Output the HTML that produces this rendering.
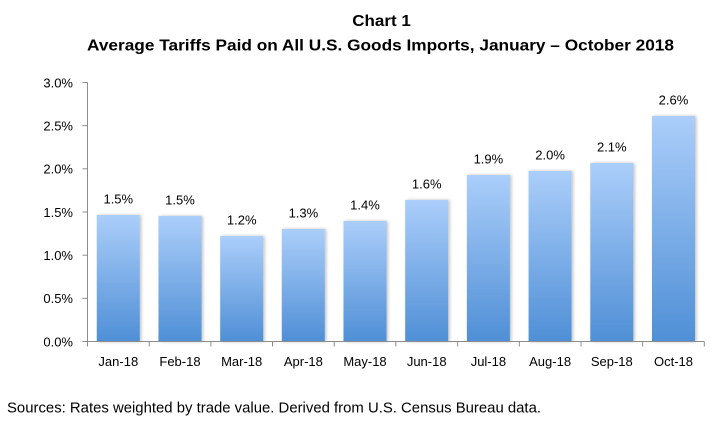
<!DOCTYPE html>
<html><head><meta charset="utf-8"><style>
html,body{margin:0;padding:0;background:#fff;}
svg{display:block;}
text{font-family:"Liberation Sans",sans-serif;fill:#000;}
</style></head><body>
<svg width="717" height="427" viewBox="0 0 717 427" xmlns="http://www.w3.org/2000/svg">
<defs>
<linearGradient id="g" x1="0" y1="0" x2="0" y2="1">
<stop offset="0" stop-color="#abcefa"/>
<stop offset="1" stop-color="#4f8fd6"/>
</linearGradient>
<filter id="sh" x="-20%" y="-5%" width="140%" height="110%">
<feGaussianBlur in="SourceAlpha" stdDeviation="1.5"/>
<feOffset dx="1.5" dy="0" result="b"/>
<feComponentTransfer><feFuncA type="linear" slope="0.25"/></feComponentTransfer>
<feMerge><feMergeNode/><feMergeNode in="SourceGraphic"/></feMerge>
</filter>
</defs>
<text x="352.3" y="26" font-size="16" font-weight="bold" textLength="58.5" lengthAdjust="spacingAndGlyphs">Chart 1</text>
<text x="87" y="50.5" font-size="16" font-weight="bold" textLength="587" lengthAdjust="spacingAndGlyphs">Average Tariffs Paid on All U.S. Goods Imports, January – October 2018</text>

<g filter="url(#sh)">
<rect x="96.8" y="215" width="43" height="126.7" fill="url(#g)"/>
<rect x="158.5" y="216" width="43" height="125.7" fill="url(#g)"/>
<rect x="220.2" y="236" width="43" height="105.7" fill="url(#g)"/>
<rect x="281.8" y="229" width="43" height="112.7" fill="url(#g)"/>
<rect x="343.5" y="221" width="43" height="120.7" fill="url(#g)"/>
<rect x="405.2" y="200" width="43" height="141.7" fill="url(#g)"/>
<rect x="466.9" y="175" width="43" height="166.7" fill="url(#g)"/>
<rect x="528.6" y="171" width="43" height="170.7" fill="url(#g)"/>
<rect x="590.3" y="163" width="43" height="178.7" fill="url(#g)"/>
<rect x="652.0" y="116" width="43" height="225.7" fill="url(#g)"/>
</g>

<g stroke="#8c8c8c" stroke-width="1" fill="none">
<line x1="87.5" y1="82.5" x2="87.5" y2="341.5"/>
<line x1="87.5" y1="341.5" x2="704.5" y2="341.5"/>
<line x1="82.5" y1="82.5" x2="87.5" y2="82.5"/>
<line x1="82.5" y1="125.7" x2="87.5" y2="125.7"/>
<line x1="82.5" y1="168.8" x2="87.5" y2="168.8"/>
<line x1="82.5" y1="212" x2="87.5" y2="212"/>
<line x1="82.5" y1="255.2" x2="87.5" y2="255.2"/>
<line x1="82.5" y1="298.3" x2="87.5" y2="298.3"/>
<line x1="82.5" y1="341.5" x2="87.5" y2="341.5"/>
<line x1="87.5" y1="341.5" x2="87.5" y2="346.5"/>
<line x1="149.2" y1="341.5" x2="149.2" y2="346.5"/>
<line x1="210.9" y1="341.5" x2="210.9" y2="346.5"/>
<line x1="272.5" y1="341.5" x2="272.5" y2="346.5"/>
<line x1="334.2" y1="341.5" x2="334.2" y2="346.5"/>
<line x1="395.9" y1="341.5" x2="395.9" y2="346.5"/>
<line x1="457.6" y1="341.5" x2="457.6" y2="346.5"/>
<line x1="519.3" y1="341.5" x2="519.3" y2="346.5"/>
<line x1="581.0" y1="341.5" x2="581.0" y2="346.5"/>
<line x1="642.6" y1="341.5" x2="642.6" y2="346.5"/>
<line x1="704.3" y1="341.5" x2="704.3" y2="346.5"/>
</g>

<g font-size="13" text-anchor="end">
<text x="73" y="87.3">3.0%</text>
<text x="73" y="130.5">2.5%</text>
<text x="73" y="173.6">2.0%</text>
<text x="73" y="216.8">1.5%</text>
<text x="73" y="260">1.0%</text>
<text x="73" y="303.1">0.5%</text>
<text x="73" y="346.3">0.0%</text>
</g>

<g font-size="13" text-anchor="middle">
<text x="118.3" y="366">Jan-18</text>
<text x="180.0" y="366">Feb-18</text>
<text x="241.7" y="366">Mar-18</text>
<text x="303.4" y="366">Apr-18</text>
<text x="365.0" y="366">May-18</text>
<text x="426.7" y="366">Jun-18</text>
<text x="488.4" y="366">Jul-18</text>
<text x="550.1" y="366">Aug-18</text>
<text x="611.8" y="366">Sep-18</text>
<text x="673.5" y="366">Oct-18</text>

<text x="118.3" y="203.3">1.5%</text>
<text x="180.0" y="204.3">1.5%</text>
<text x="241.7" y="224.3">1.2%</text>
<text x="303.4" y="217.3">1.3%</text>
<text x="365.0" y="209.3">1.4%</text>
<text x="426.7" y="188.3">1.6%</text>
<text x="488.4" y="163.3">1.9%</text>
<text x="550.1" y="159.3">2.0%</text>
<text x="611.8" y="151.3">2.1%</text>
<text x="673.5" y="104.3">2.6%</text>
</g>

<text x="7" y="412.7" font-size="14.5" textLength="534" lengthAdjust="spacingAndGlyphs">Sources: Rates weighted by trade value. Derived from U.S. Census Bureau data.</text>
</svg>
</body></html>
